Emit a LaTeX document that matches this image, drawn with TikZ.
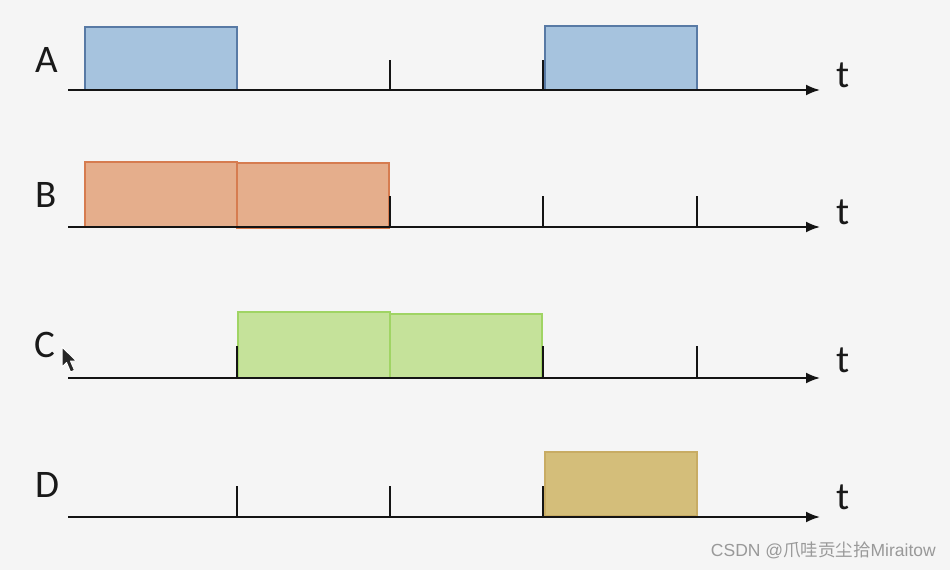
\documentclass[tikz,border=0pt]{standalone}
\usepackage{fontspec}
\setmainfont{Carlito}
\newfontfamily\cjkfont{Noto Sans CJK SC}
\newfontfamily\wmfont{Liberation Sans}
\usetikzlibrary{arrows.meta}
\definecolor{bgc}{RGB}{245,245,245}
\definecolor{blueF}{RGB}{166,195,222}
\definecolor{blueD}{RGB}{88,122,165}
\definecolor{orangeF}{RGB}{229,174,140}
\definecolor{orangeD}{RGB}{214,124,80}
\definecolor{greenF}{RGB}{197,226,154}
\definecolor{greenD}{RGB}{160,212,100}
\definecolor{goldF}{RGB}{212,190,122}
\definecolor{goldD}{RGB}{200,172,100}
\definecolor{axisc}{RGB}{20,20,20}
\begin{document}
\begin{tikzpicture}[x=1pt,y=-1pt,
  axisline/.style={draw=axisc,line width=2pt,-{Latex[length=14pt,width=11pt]}},
  tickmark/.style={draw=axisc,line width=1.8pt},
  boxA/.style={fill=blueF,draw=blueD,line width=1.3pt},
  boxB/.style={fill=orangeF,draw=orangeD,line width=1.3pt},
  boxC/.style={fill=greenF,draw=greenD,line width=1.3pt},
  boxD/.style={fill=goldF,draw=goldD,line width=1.3pt},
  rowlabel/.style={font=\fontsize{39}{39}\selectfont,inner sep=0pt,text=black!90},
  tlabel/.style={font=\fontsize{39}{39}\selectfont,inner sep=0pt,text=black!90}]
\fill[bgc] (0,0) rectangle (950,570);
\useasboundingbox (0,0) rectangle (950,570);

% labels
\node[rowlabel] (lA) at (47,60) {A};
\node[rowlabel] (lB) at (46,195) {B};
\node[rowlabel] (lC) at (45,345) {C};
\node[rowlabel] (lD) at (47,485) {D};

% boxes
\draw[boxA] (85,27) rectangle (237,90);
\draw[boxA] (545,26) rectangle (697,90);
\draw[boxB] (85,162) rectangle (237,227);
\draw[boxB] (237,163) rectangle (389,228);
\draw[boxC] (238,312) rectangle (390,378);
\draw[boxC] (390,314) rectangle (542,378);
\draw[boxD] (545,452) rectangle (697,516);

% axes
\coordinate (a0) at (68,90);  \coordinate (a1) at (820,90);
\coordinate (b0) at (68,227); \coordinate (b1) at (820,227);
\coordinate (c0) at (68,378); \coordinate (c1) at (820,378);
\coordinate (d0) at (68,517); \coordinate (d1) at (820,517);
\draw[axisline] (a0) -- (a1);
\draw[axisline] (b0) -- (b1);
\draw[axisline] (c0) -- (c1);
\draw[axisline] (d0) -- (d1);

% ticks
\foreach \x in {390,543} \draw[tickmark] (\x,90) -- (\x,60);
\foreach \x in {390,543,697} \draw[tickmark] (\x,227) -- (\x,196);
\foreach \x in {237,543,697} \draw[tickmark] (\x,378) -- (\x,346);
\foreach \x in {237,390,543} \draw[tickmark] (\x,517) -- (\x,486);

% t labels
\node[tlabel] (tA) at (843,75) {t};
\node[tlabel] (tB) at (843,212) {t};
\node[tlabel] (tC) at (843,360) {t};
\node[tlabel] (tD) at (843,497) {t};

% mouse cursor
\filldraw[fill=black!85,draw=white,line width=1pt,line join=round]
  (62,347) -- (62,367) -- (66.5,362.5) -- (70.5,372) -- (74.5,370.3) -- (70.5,361) -- (76.5,361) -- cycle;

% watermark
\node[anchor=east,inner sep=0pt,text=black!40,font=\wmfont\fontsize{17.5}{17.5}\selectfont] (wm) at (936,550) {CSDN @{\cjkfont 爪哇贡尘拾}Miraitow};
\end{tikzpicture}
\end{document}
